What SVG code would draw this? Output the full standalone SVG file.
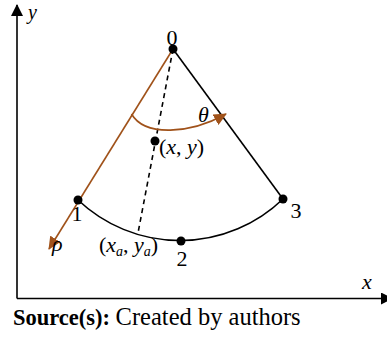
<svg xmlns="http://www.w3.org/2000/svg" width="387" height="337" viewBox="0 0 387 337">
<defs>
<style>
.t{font-family:"Liberation Serif","Times New Roman",serif;font-size:22px;fill:#000}
.i{font-style:italic}
.ax{stroke:#000;stroke-width:1.6;fill:none}
.br{stroke:#A0521A;stroke-width:1.6;fill:none}
.bk{stroke:#000;stroke-width:1.6;fill:none}
.dot{fill:#000}
</style>
<marker id="ah" markerWidth="12" markerHeight="12" refX="11" refY="6" orient="auto" markerUnits="userSpaceOnUse">
<path d="M0,0 L12,6 L0,12 Z" fill="#000"/>
</marker>
<marker id="bh" markerWidth="13" markerHeight="12" refX="12" refY="6" orient="auto" markerUnits="userSpaceOnUse">
<path d="M0,0 L13,6 L0,12 Z" fill="#A0521A"/>
</marker>
</defs>
<rect width="387" height="337" fill="#fff"/>
<g id="connectors">
<line id="y-axis" class="ax" x1="17" y1="298.5" x2="17" y2="5" marker-end="url(#ah)"/>
<line id="x-axis" class="ax" x1="17" y1="298.5" x2="392" y2="298.5" marker-end="url(#ah)"/>
<line id="edge-0-3" class="bk" x1="173" y1="49" x2="283" y2="199"/>
<path id="arc-1-2-3" class="bk" d="M78,200 A148.5,148.5 0 0 0 283,199"/>
<line id="dashed" class="bk" stroke-dasharray="5,4" x1="173" y1="49" x2="138" y2="233"/>
<line id="rho-axis" class="br" x1="173" y1="49" x2="49" y2="249" marker-end="url(#bh)"/>
<path id="theta-arc" class="br" d="M131.5,114 C145,137 190,134 226,114" marker-end="url(#bh)"/>
</g>
<g id="node-0"><circle class="dot" cx="173" cy="49" r="4.5"/><text class="t" x="172" y="45" text-anchor="middle">0</text></g>
<g id="node-1"><circle class="dot" cx="78" cy="200" r="4.5"/><text class="t" x="77" y="221" text-anchor="middle">1</text></g>
<g id="node-2"><circle class="dot" cx="181" cy="241" r="4.5"/><text class="t" x="182" y="266" text-anchor="middle">2</text></g>
<g id="node-3"><circle class="dot" cx="283" cy="199" r="4.5"/><text class="t" x="296" y="218" text-anchor="middle">3</text></g>
<g id="node-xy"><circle class="dot" cx="155" cy="141" r="4.5"/><text class="t" x="159" y="154">(<tspan class="i">x</tspan>, <tspan class="i">y</tspan>)</text></g>
<g id="node-xa"><text class="t" x="99" y="252">(<tspan class="i">x</tspan><tspan class="i" style="font-size:14px" dy="4">a</tspan><tspan dy="-4">, </tspan><tspan class="i">y</tspan><tspan class="i" style="font-size:14px" dy="4">a</tspan><tspan dy="-4">)</tspan></text></g>
<g id="labels">
<text class="t i" x="28" y="19" style="font-size:20px">y</text>
<text class="t i" x="362" y="289">x</text>
<text class="t i" x="198" y="122">θ</text>
<text class="t i" x="52" y="251">ρ</text>
<text class="t" x="13" y="325"><tspan style="font-size:22.5px;font-weight:bold">Source(s):</tspan> <tspan style="font-size:24.5px">Created by authors</tspan></text>
</g>
</svg>
